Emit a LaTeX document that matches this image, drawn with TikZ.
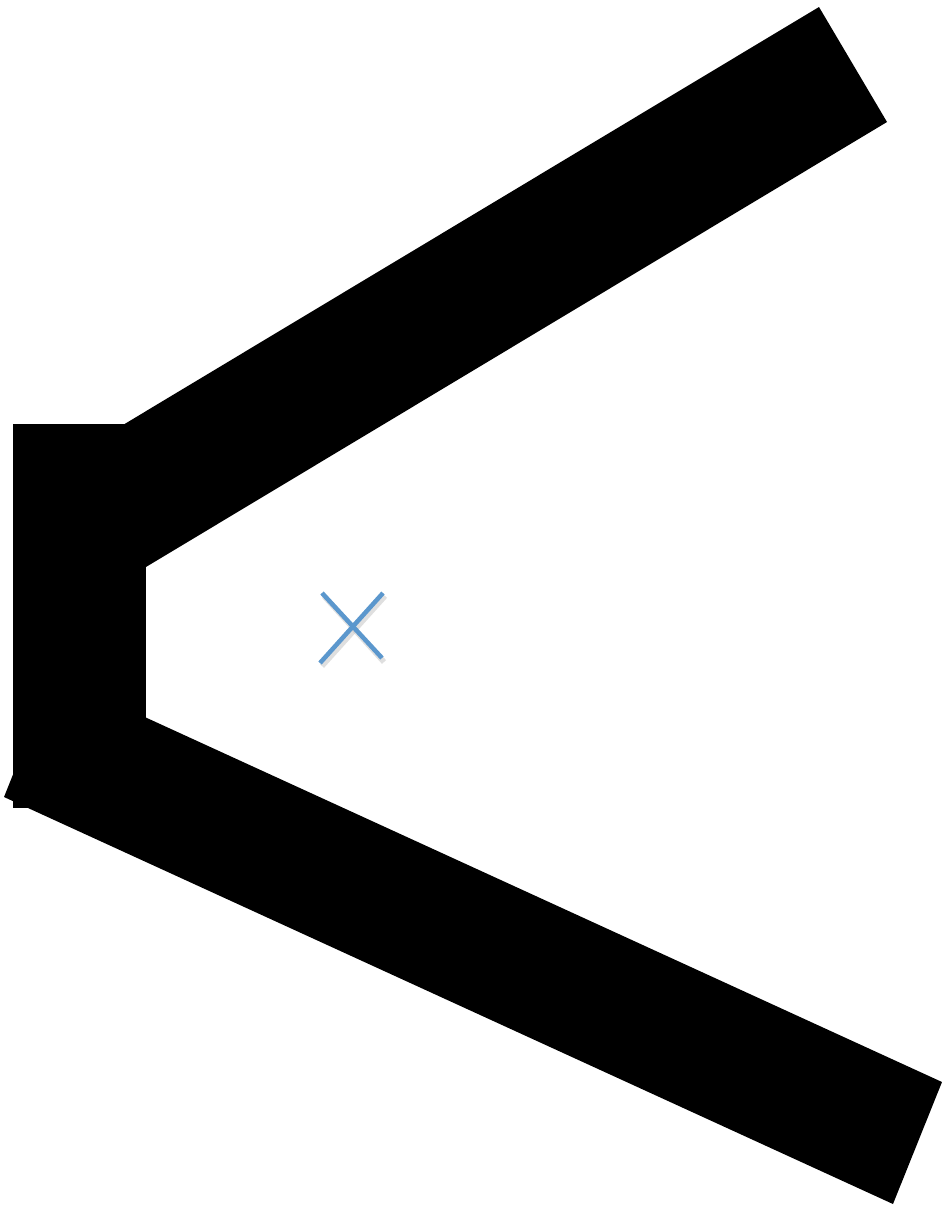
\documentclass[tikz,border=0pt]{standalone}
\usetikzlibrary{calc}
\definecolor{xblue}{HTML}{5B97CD}
\tikzset{
  bar/.style={fill=black,draw=none},
  xmark/.style={draw=xblue,line width=4.5pt},
  xshadow/.style={draw=black!25,line width=5.5pt,opacity=0.5}
}
\begin{document}
\begin{tikzpicture}[x=1pt,y=-1pt]
\useasboundingbox (0,0) rectangle (942,1205);
% upper bar
\fill[bar] (32,479.6) -- (819,7) -- (887,122) -- (100,594.6) -- cycle;
% lower bar
\fill[bar] (53,675) -- (942,1082) -- (893,1204) -- (4,797) -- cycle;
% vertical block
\fill[bar] (13,424) rectangle (146,808);
% blue cross with soft shadow
\draw[xshadow] (324,596) -- (384,662);
\draw[xshadow] (385,596) -- (322,666);
\draw[xmark] (322,593) -- (382,658);
\draw[xmark] (383,593) -- (320,663);
\end{tikzpicture}
\end{document}
